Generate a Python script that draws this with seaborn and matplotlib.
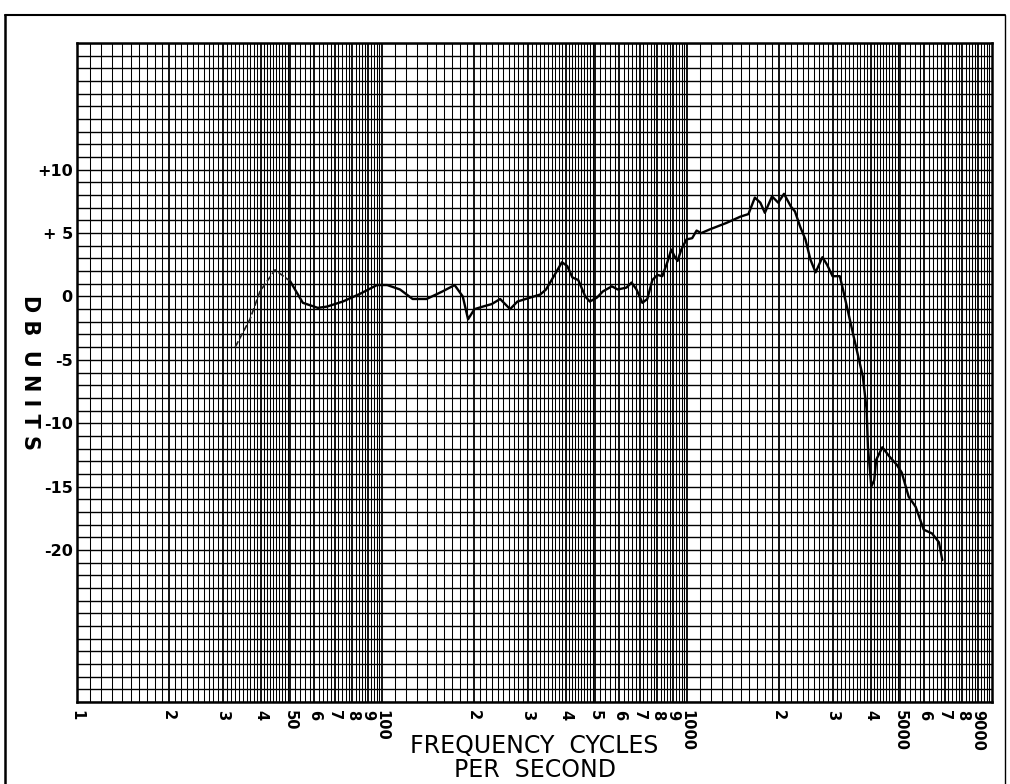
import numpy as np
import pandas as pd
import matplotlib
matplotlib.use("Agg")
import matplotlib.pyplot as plt
from matplotlib.ticker import FixedLocator, NullFormatter
from matplotlib.lines import Line2D
import seaborn as sns

# ---- data ----
freq_hz = [33, 36.9, 39.8, 44.6, 50, 55, 61.6, 66, 74.4, 84.6, 96.3, 104, 114.6, 126, 140,
           158, 173, 184, 191.5, 201, 214, 229, 244, 263, 278, 305, 330, 345, 368, 389,
           405, 421, 440, 464, 480, 506, 530, 567, 593, 633, 658, 683, 714, 741, 770,
           800, 830, 862, 888, 909, 931, 958, 996, 1040, 1075, 1113, 1190, 1346, 1497,
           1590, 1669, 1740, 1800, 1900, 1991, 2080, 2190, 2260, 2350, 2445, 2540, 2640,
           2780, 2880, 3000, 3170, 3250, 3380, 3600, 3770, 3880, 3920, 4020, 4110, 4170,
           4370, 4600, 4880, 5060, 5330, 5620, 5970, 6360, 6700, 6870]
db_units = [-4.0, -1.8, 0.4, 2.1, 1.2, -0.5, -0.9, -0.8, -0.4, 0.2, 0.9, 0.9, 0.55, -0.2, -0.2,
            0.4, 0.9, 0.0, -1.8, -1.0, -0.8, -0.6, -0.2, -1.0, -0.4, -0.1, 0.15, 0.55, 1.7, 2.7,
            2.4, 1.5, 1.3, 0.0, -0.4, -0.1, 0.4, 0.8, 0.55, 0.7, 1.1, 0.55, -0.5, -0.2, 1.3,
            1.7, 1.6, 2.7, 3.7, 3.2, 2.8, 3.7, 4.5, 4.6, 5.2, 5.0, 5.3, 5.8, 6.3,
            6.5, 7.8, 7.4, 6.6, 7.9, 7.4, 8.1, 7.1, 6.7, 5.5, 4.5, 2.9, 1.9,
            3.1, 2.5, 1.6, 1.6, 0.5, -1.3, -4.2, -6.3, -8.9, -11.9, -15.0, -14.5, -12.9,
            -11.9, -12.6, -13.3, -13.9, -15.8, -16.6, -18.4, -18.7, -19.4, -20.8]

x_tick_values = [10, 20, 30, 40, 50, 60, 70, 80, 90,
                 100, 200, 300, 400, 500, 600, 700, 800, 900,
                 1000, 2000, 3000, 4000, 5000, 6000, 7000, 8000, 9000]
x_tick_labels = ["1", "2", "3", "4", "50", "6", "7", "8", "9",
                 "100", "2", "3", "4", "5", "6", "7", "8", "9",
                 "1000", "2", "3", "4", "5000", "6", "7", "8", "9000"]
y_tick_values = [10, 5, 0, -5, -10, -15, -20]
y_tick_labels = ["+10", "+ 5", "0", "-5", "-10", "-15", "-20"]

x_label = "FREQUENCY  CYCLES\nPER  SECOND"
y_label = "D B  U N I T S"

# ---- styling ----
sns.set_theme(style="white")
plt.rcParams['font.family'] = ['DejaVu Sans']
plt.rcParams['text.color'] = 'black'
plt.rcParams['axes.labelcolor'] = 'black'
plt.rcParams['xtick.color'] = 'black'
plt.rcParams['ytick.color'] = 'black'

fig = plt.figure(figsize=(10.10, 7.84), dpi=100)
ax = fig.add_axes([77 / 1010, 1 - 702 / 784, (992 - 77) / 1010, (702 - 43) / 784])

df = pd.DataFrame({"freq": freq_hz, "db": db_units})
# lighter start of the trace, then the solid trace
sns.lineplot(data=df.iloc[:5], x="freq", y="db", ax=ax, color="#222222", linewidth=1.2,
             linestyle=(0, (4, 1.5)), estimator=None, sort=False, zorder=5)
sns.lineplot(data=df.iloc[4:], x="freq", y="db", ax=ax, color="black", linewidth=1.7,
             estimator=None, sort=False, zorder=5)

ax.set_xscale("log")
ax.set_xlim(10, 10000)
ax.set_ylim(-32, 20)

# log chart-paper grid
minor_x = []
for d in (10, 100, 1000):
    for m in np.concatenate([np.arange(1.1, 2.0, 0.1), np.arange(2.1, 5.0, 0.1),
                             np.arange(5.2, 10.0, 0.2)]):
        if abs(m - round(m)) > 1e-6:
            minor_x.append(m * d)
ax.xaxis.set_major_locator(FixedLocator(x_tick_values))
ax.xaxis.set_minor_locator(FixedLocator(minor_x))
ax.xaxis.set_minor_formatter(NullFormatter())
ax.set_xticklabels(x_tick_labels, rotation=270, fontsize=10.5, fontweight="bold",
                   ha="center", va="top")

ax.yaxis.set_major_locator(FixedLocator(y_tick_values))
ax.yaxis.set_minor_locator(FixedLocator(list(range(-32, 21))))
ax.set_yticklabels(y_tick_labels, fontsize=11.5, fontweight="bold")

ax.tick_params(axis="both", which="both", length=0)
ax.tick_params(axis="x", pad=6)
ax.tick_params(axis="y", pad=3)

ax.grid(True, which="major", axis="x", color="black", linewidth=1.3)
ax.grid(True, which="minor", axis="x", color="black", linewidth=0.75)
ax.grid(True, which="both", axis="y", color="black", linewidth=1.0)
ax.set_axisbelow(True)

for s in ax.spines.values():
    s.set_visible(True)
    s.set_color("black")
    s.set_linewidth(1.8)

ax.set_xlabel(x_label, fontsize=17, labelpad=4, linespacing=1.0, color="black")
ax.set_ylabel(y_label, fontsize=15, fontweight="bold", rotation=270, labelpad=-10, color="black")
ax.xaxis.set_label_coords(0.5, -0.048, transform=ax.transAxes)
ax.xaxis.label.set_va("top")
ax.yaxis.set_label_coords(-0.062, 0.5)

# outer page frame
fig.add_artist(Line2D([5 / 1010, 5 / 1010], [0, 1 - 15 / 784], color="black", linewidth=1.8))
fig.add_artist(Line2D([5 / 1010, 1005 / 1010], [1 - 15 / 784, 1 - 15 / 784], color="black", linewidth=1.5))
fig.add_artist(Line2D([1005 / 1010, 1005 / 1010], [0, 1 - 15 / 784], color="black", linewidth=1.0))

fig.savefig("out.png", dpi=100, facecolor="white")
